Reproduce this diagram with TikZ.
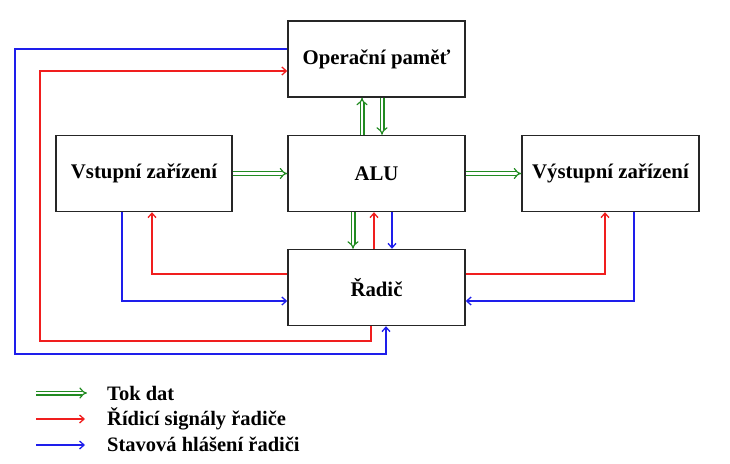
\documentclass[tikz,border=0pt]{standalone}
\usepackage{fontspec}
\setmainfont{Liberation Serif}
\usetikzlibrary{arrows.meta}
\definecolor{dgreen}{RGB}{34,139,34}
\definecolor{sred}{RGB}{240,30,30}
\definecolor{sblue}{RGB}{30,30,235}
\begin{document}
\begin{tikzpicture}[x=1pt,y=-1pt,
  box/.style={draw=black!85,line width=1.4pt,minimum width=177pt,minimum height=76pt,inner sep=0pt,font=\fontsize{20.8}{24}\selectfont\bfseries},
  data/.style={draw=dgreen,double=white,double distance=2.6pt,line width=1.2pt,-{Implies[length=5pt,width=9pt]}},
  ctrl/.style={draw=sred,line width=1.3pt,-{Straight Barb[length=4.5pt,width=8pt]}},
  stat/.style={draw=sblue,line width=1.3pt,-{Straight Barb[length=4.5pt,width=8pt]}},
  leg/.style={anchor=base west,inner sep=0pt,font=\fontsize{20.5}{24}\selectfont\bfseries}]
\useasboundingbox (0,0) rectangle (730,463);
\node[box] (op) at (376.5,59) {Operační paměť};
\node[box,minimum width=176pt] (vst) at (144,173.5) {Vstupní zařízení};
\node[box] (alu) at (376.5,173.5) {ALU};
\node[box] (vys) at (610.5,173.5) {Výstupní zařízení};
\node[box] (rad) at (376.5,287.5) {Řadič};
% data flow
\draw[data] (vst.east) -- (alu.west);
\draw[data] (alu.east) -- (vys.west);
\draw[data] ([xshift=-14.5pt]alu.north) -- ([xshift=-14.5pt]op.south);
\draw[data] ([xshift=5.5pt]op.south) -- ([xshift=5.5pt]alu.north);
\draw[data] ([xshift=-23.5pt]alu.south) -- ([xshift=-23.5pt]rad.north);
% control / status between ALU and Radic
\draw[ctrl] ([xshift=-2.5pt]rad.north) -- ([xshift=-2.5pt]alu.south);
\draw[stat] ([xshift=15.5pt]alu.south) -- ([xshift=15.5pt]rad.north);
% input / output devices
\draw[ctrl] ([yshift=13.5pt]rad.west) -| ([xshift=8pt]vst.south);
\draw[stat] ([xshift=-22pt]vst.south) |- ([yshift=-13.5pt]rad.west);
\draw[ctrl] ([yshift=13.5pt]rad.east) -| ([xshift=-5.5pt]vys.south);
\draw[stat] ([xshift=23.5pt]vys.south) |- ([yshift=-13.5pt]rad.east);
% memory
\coordinate (redcorner) at (40,341);
\coordinate (bluecorner) at (15,354);
\draw[ctrl] ([xshift=-5.5pt]rad.south) |- (redcorner) |- ([yshift=-12pt]op.west);
\draw[stat] ([yshift=10pt]op.west) -| (bluecorner) -| ([xshift=9.5pt]rad.south);
% legend
\coordinate (l1a) at (36,393); \coordinate (l1b) at (87,393);
\coordinate (l2a) at (36,419); \coordinate (l2b) at (85,419);
\coordinate (l3a) at (36,445); \coordinate (l3b) at (85,445);
\draw[data] (l1a) -- (l1b);
\draw[ctrl] (l2a) -- (l2b);
\draw[stat] (l3a) -- (l3b);
\node[leg] (t1) at (107,400) {Tok dat};
\node[leg] (t2) at (107,425.5) {Řídicí signály řadiče};
\node[leg] (t3) at (107,451) {Stavová hlášení řadiči};
\end{tikzpicture}
\end{document}
